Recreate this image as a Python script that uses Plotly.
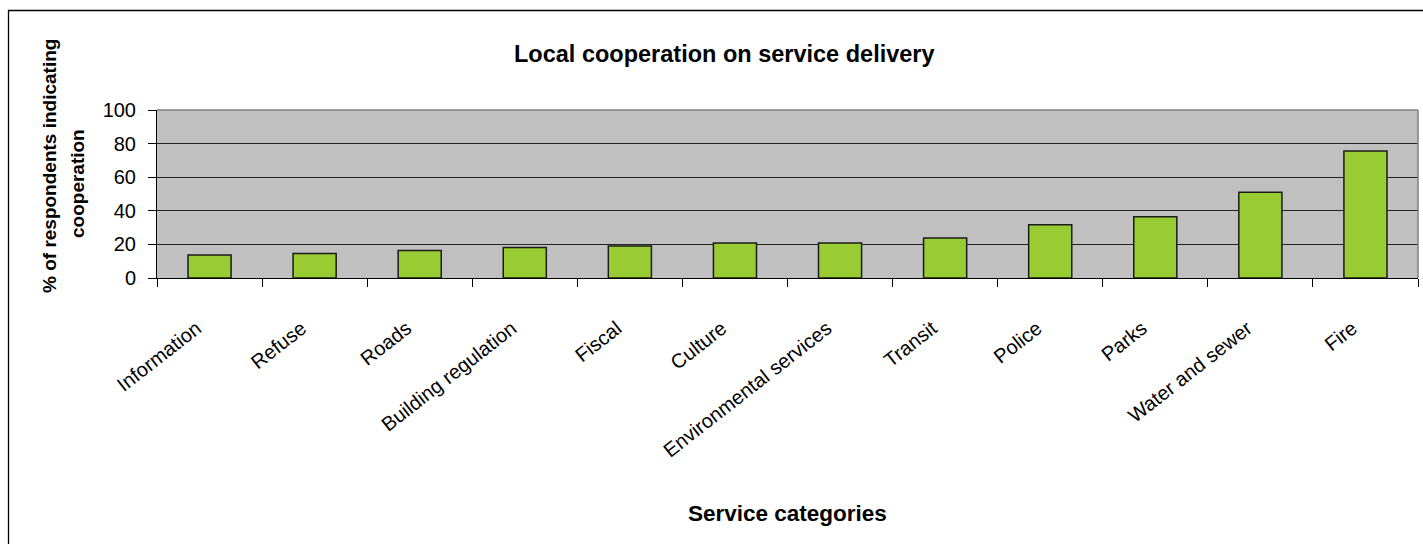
import plotly.graph_objects as go

categories = ["Information", "Refuse", "Roads", "Building regulation", "Fiscal", "Culture",
              "Environmental services", "Transit", "Police", "Parks", "Water and sewer", "Fire"]
values = [13.7, 14.6, 16.4, 18.2, 19.0, 20.8, 20.8, 23.8, 31.7, 36.5, 51.0, 75.6]
y_ticks = [0, 20, 40, 60, 80, 100]

title_text = "Local cooperation on service delivery"
x_title = "Service categories"
y_title_1 = "% of respondents indicating"
y_title_2 = "cooperation"

FONT = "Liberation Sans, Arial, sans-serif"
W, H = 1423, 544
L, R, T, B = 157, 5, 110, 266
pw = W - L - R
ph = H - T - B

def px_x(p):
    return (p - L) / pw

def px_y(p):
    return (H - B - p) / ph

fig = go.Figure()
fig.add_trace(go.Bar(
    x=categories, y=values, width=0.41,
    marker=dict(color="#99CC33", line=dict(color="#1a1a1a", width=1.5)),
    hoverinfo="x+y",
))

fig.update_layout(
    width=W, height=H,
    margin=dict(l=L, r=R, t=T, b=B, autoexpand=False),
    paper_bgcolor="white",
    plot_bgcolor="#C0C0C0",
    showlegend=False,
    font=dict(family=FONT, color="black", size=20),
    xaxis=dict(
        type="category", tickson="boundaries", ticks="outside", ticklen=8, tickcolor="black",
        showline=True, linecolor="black", linewidth=1, mirror=False,
        showgrid=False, tickangle=-38, tickfont=dict(size=20, family=FONT),
        ticklabelstandoff=30, ticklabelshift=-13,
        range=[-0.5, len(categories) - 0.5],
    ),
    yaxis=dict(
        range=[0, 100], tickvals=y_ticks, ticks="outside", ticklen=8, tickcolor="black",
        showline=True, linecolor="black", linewidth=1,
        showgrid=True, gridcolor="#222222", gridwidth=1, zeroline=False,
        tickfont=dict(size=20, family=FONT), ticklabelstandoff=8,
    ),
)

# plot area top/right gray border
fig.add_shape(type="line", xref="paper", yref="paper", x0=0, x1=1, y0=1, y1=1,
              line=dict(color="#808080", width=1.5))
fig.add_shape(type="line", xref="paper", yref="paper", x0=1, x1=1, y0=0, y1=1,
              line=dict(color="#808080", width=1.5))

# outer chart border (extends beyond canvas on right/bottom)
fig.add_shape(type="rect", xref="paper", yref="paper",
              x0=px_x(8.5), x1=px_x(W + 20), y0=px_y(H + 20), y1=px_y(10.5),
              line=dict(color="black", width=1.3), fillcolor="rgba(0,0,0,0)", layer="below")

fig.add_annotation(text="<b>" + title_text + "</b>", xref="paper", yref="paper",
                   x=px_x(724), y=px_y(54), showarrow=False,
                   font=dict(size=23.5, family=FONT), xanchor="center", yanchor="middle")
fig.add_annotation(text="<b>" + x_title + "</b>", xref="paper", yref="paper",
                   x=px_x(787), y=px_y(513), showarrow=False,
                   font=dict(size=22.5, family=FONT), xanchor="center", yanchor="middle")
fig.add_annotation(text="<b>" + y_title_1 + "</b>", xref="paper", yref="paper",
                   x=px_x(49), y=px_y(166), showarrow=False, textangle=-90,
                   font=dict(size=19, family=FONT), xanchor="center", yanchor="middle")
fig.add_annotation(text="<b>" + y_title_2 + "</b>", xref="paper", yref="paper",
                   x=px_x(77), y=px_y(184), showarrow=False, textangle=-90,
                   font=dict(size=19, family=FONT), xanchor="center", yanchor="middle")

fig.write_html("out.html", post_script="document.body.style.margin='0';",
               config={"displayModeBar": False})
